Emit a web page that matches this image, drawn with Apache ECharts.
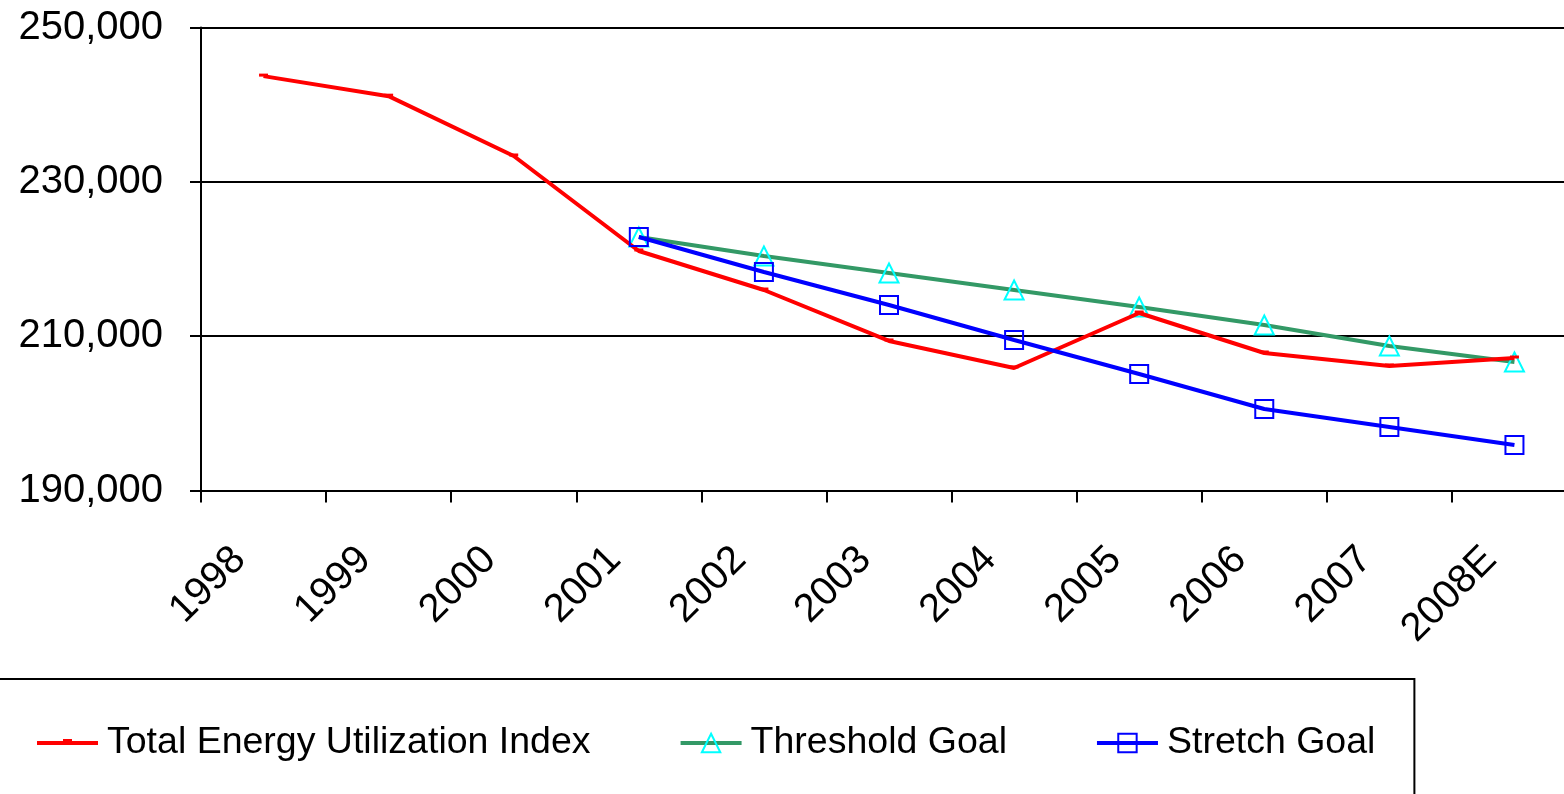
<!DOCTYPE html>
<html>
<head>
<meta charset="utf-8">
<script src="https://cdn.jsdelivr.net/npm/echarts@6/dist/echarts.min.js"></script>
<style>
  html, body { margin: 0; padding: 0; background: #fff; }
  #chart { width: 1564px; height: 794px; }
</style>
</head>
<body>
<div id="chart"></div>
<script>
// values
const years = ['1998', '1999', '2000', '2001', '2002', '2003', '2004', '2005', '2006', '2007', '2008E']
const totalIndex = [243700, 241100, 233350, 221040, 215980, 209380, 205880, 213000, 207820, 206140, 207170]
const thresholdGoal = [null, null, null, 222850, 220390, 218190, 215980, 213780, 211450, 208730, 206650]
const stretchGoal = [null, null, null, 222850, 218320, 214040, 209500, 205100, 200560, 198230, 195900]
const yTicks = [190000, 210000, 230000, 250000]

const font = 'Liberation Sans, Arial, sans-serif'

// legend icon for the red series: a line with a small dash marker (Excel style)
const dashLineIcon = 'path://M0,0 M0,9.5h61v4h-61z M26,7.5h9v3h-9z M61,23'

const myEcharts = echarts.init(document.getElementById('chart'))
const option = {
  animation: false,
  backgroundColor: '#fff',
  grid: {
    left: 201,
    width: 1376,
    top: 27.5,
    bottom: 303.5,
    containLabel: false,
    outerBoundsMode: 'none',
  },
  legend: {
    left: -3,
    top: 679,
    padding: [45, 39, 80, 40],
    itemGap: 88,
    itemWidth: 61,
    itemHeight: 23,
    borderColor: '#000',
    borderWidth: 2,
    lineStyle: { width: 4 },
    textStyle: {
      fontFamily: font,
      fontSize: 37.5,
      color: '#000',
      padding: [0, 0, 0, 4],
    },
    data: [
      { name: 'Total Energy Utilization Index', icon: dashLineIcon },
      'Threshold Goal',
      'Stretch Goal',
    ],
  },
  xAxis: {
    type: 'category',
    data: years,
    boundaryGap: true,
    axisLine: { lineStyle: { color: '#000', width: 2 } },
    axisTick: { show: true, length: 12, lineStyle: { color: '#000', width: 2 } },
    axisLabel: {
      interval: 0,
      rotate: 45,
      margin: 39,
      padding: [0, 34, 57, 0],
      fontFamily: font,
      fontSize: 40,
      color: '#000',
    },
  },
  yAxis: {
    type: 'value',
    min: yTicks[0],
    max: yTicks[yTicks.length - 1],
    interval: yTicks[1] - yTicks[0],
    axisLine: { show: true, lineStyle: { color: '#000', width: 2 } },
    axisTick: { show: true, length: 11, lineStyle: { color: '#000', width: 2 } },
    splitLine: { lineStyle: { color: '#000', width: 2 } },
    axisLabel: {
      margin: 38,
      fontFamily: font,
      fontSize: 40,
      color: '#000',
      formatter: (v) => v.toLocaleString('en-US'),
    },
  },
  series: [
    {
      name: 'Total Energy Utilization Index',
      type: 'line',
      data: totalIndex,
      symbol: 'rect',
      symbolSize: [9, 3],
      symbolOffset: [0, -1],
      itemStyle: { color: '#FF0000' },
      lineStyle: { color: '#FF0000', width: 4 },
      z: 3,
    },
    {
      name: 'Threshold Goal',
      type: 'line',
      data: thresholdGoal,
      symbol: 'triangle',
      symbolSize: 19,
      itemStyle: { color: 'none', borderColor: '#00FFFF', borderWidth: 2 },
      lineStyle: { color: '#339966', width: 4 },
      z: 2,
    },
    {
      name: 'Stretch Goal',
      type: 'line',
      data: stretchGoal,
      symbol: 'rect',
      symbolSize: 18,
      itemStyle: { color: 'none', borderColor: '#0000FF', borderWidth: 2 },
      lineStyle: { color: '#0000FF', width: 4 },
      z: 4,
    },
  ],
}
myEcharts.setOption(option)
</script>
</body>
</html>
